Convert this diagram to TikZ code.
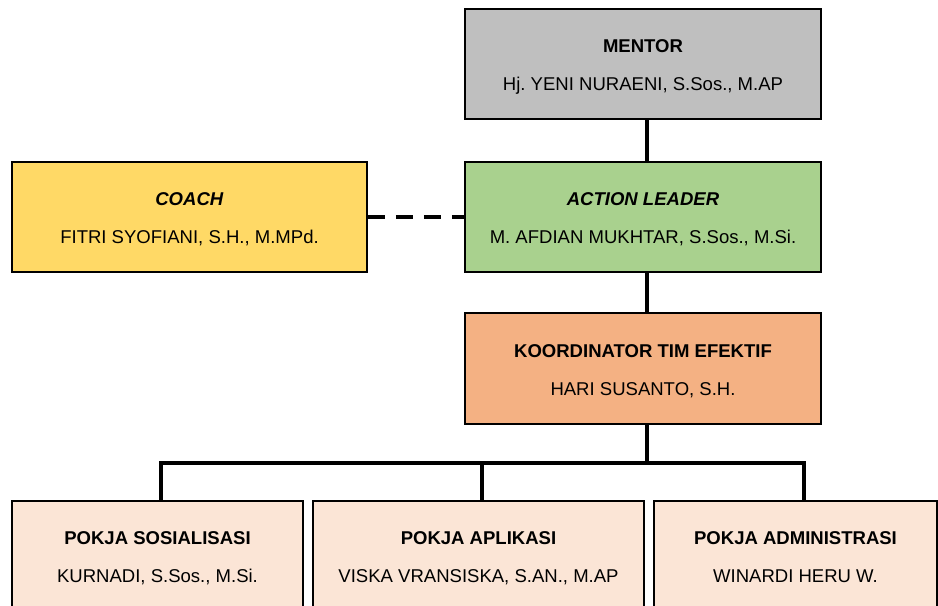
\documentclass[tikz,border=0pt]{standalone}
\usepackage{fontspec}
\setmainfont{Liberation Sans}
\frenchspacing
% title line and name line of one chart box, with fixed outer height and depth
\newcommand{\boxlines}[2]{\rule{0pt}{19.5bp}#1\\#2\rule[-4.3bp]{0pt}{0pt}}
\begin{document}
\begin{tikzpicture}[x=1bp,y=-1bp,
  box/.style={draw=black, line width=1.8bp, minimum width=356bp, minimum height=110bp,
    inner sep=0pt, align=center, font=\fontsize{18.6}{38}\selectfont\frenchspacing},
  conn/.style={line width=4bp},
  link/.style={line width=4bp, dash pattern=on 17bp off 11bp}]
\useasboundingbox (0,0) rectangle (938,606);
\clip (0,0) rectangle (938,606);
% top of the chart
\node[box, fill={rgb,255:red,191;green,191;blue,191}] (mentor) at (643,64)
  {\boxlines{\textbf{MENTOR}}{Hj. YENI NURAENI, S.Sos., M.AP}};
\node[box, fill={rgb,255:red,169;green,209;blue,142}] (action) at (643,217)
  {\boxlines{\textbf{\textit{ACTION LEADER}}}{M. AFDIAN MUKHTAR, S.Sos., M.Si.}};
\node[box, minimum width=355bp, fill={rgb,255:red,255;green,217;blue,102}] (coach) at (189.5,217)
  {\boxlines{\textbf{\textit{COACH}}}{FITRI SYOFIANI, S.H., M.MPd.}};
\node[box, minimum height=111bp, fill={rgb,255:red,244;green,177;blue,131}] (koord) at (643,368.5)
  {\boxlines{\textbf{KOORDINATOR TIM EFEKTIF}}{HARI SUSANTO, S.H.}};
% working groups
\node[box, minimum width=291bp, fill={rgb,255:red,251;green,229;blue,214}] (pk1) at (157.5,556)
  {\boxlines{\textbf{POKJA SOSIALISASI}}{KURNADI, S.Sos., M.Si.}};
\node[box, minimum width=331bp, fill={rgb,255:red,251;green,229;blue,214}] (pk2) at (478.5,556)
  {\boxlines{\textbf{POKJA APLIKASI}}{VISKA VRANSISKA, S.AN., M.AP}};
\node[box, minimum width=283bp, fill={rgb,255:red,251;green,229;blue,214}] (pk3) at (795.5,556)
  {\boxlines{\textbf{POKJA ADMINISTRASI}}{WINARDI HERU W.}};
% connectors
\coordinate (vx) at (647,0);
\coordinate (bus) at (0,463);
\coordinate (d1) at (161,0);
\coordinate (d2) at (482,0);
\coordinate (d3) at (804,0);
\draw[conn] (mentor.south -| vx) -- (action.north -| vx);
\draw[conn] (action.south -| vx) -- (koord.north -| vx);
\draw[conn] (koord.south -| vx) -- (bus -| vx);
\draw[conn] (pk1.north -| d1) -- (bus -| d1) -- (bus -| d3) -- (pk3.north -| d3);
\draw[conn] (bus -| d2) -- (pk2.north -| d2);
\draw[link] (coach.east) -- (action.west);
\end{tikzpicture}
\end{document}
